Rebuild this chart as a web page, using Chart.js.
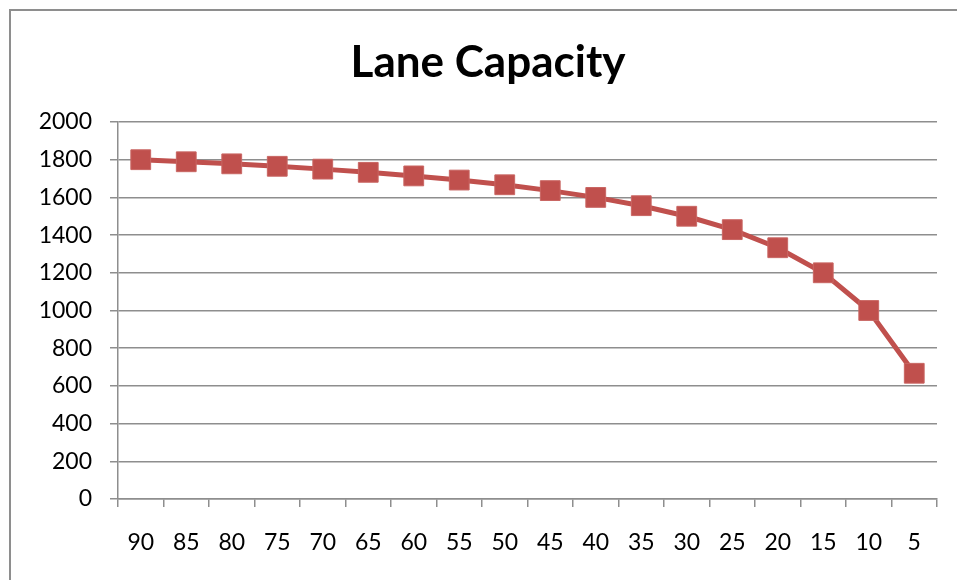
<!DOCTYPE html>
<html>
<head>
<meta charset="utf-8">
<script src="https://cdn.jsdelivr.net/npm/chart.js@4"></script>
<style>
  html, body { margin: 0; padding: 0; background: #fff; }
  #wrap { position: relative; width: 957px; height: 580px; overflow: hidden; }
  #frame { position: absolute; left: 9px; top: 9px; width: 980px; height: 600px;
           border: 2px solid #8e8e8e; box-sizing: border-box; }
  canvas { position: absolute; left: 0; top: 0; }
</style>
</head>
<body>
<div id="wrap">
  <div id="frame"></div>
  <canvas id="chart" width="957" height="580"></canvas>
</div>
<script>
// speeds along the x axis
const speeds = ["90", "85", "80", "75", "70", "65", "60", "55", "50", "45",
                "40", "35", "30", "25", "20", "15", "10", "5"];

// lane capacity
const capacity = [1800, 1789, 1778, 1765, 1750, 1733, 1714, 1692, 1667, 1636,
                  1600, 1556, 1500, 1429, 1333, 1200, 1000, 667];

const yMin = 0;
const yMax = 2000;
const yStep = 200;

const red = "#c0504d";
const gray = "#8e8e8e";
const fontFamily = "Lato, 'Open Sans', sans-serif";

const ctx = document.getElementById("chart").getContext("2d");

new Chart(ctx, {
  type: "line",
  data: {
    labels: speeds,
    datasets: [{
      data: capacity,
      borderColor: red,
      borderWidth: 5,
      backgroundColor: red,
      pointStyle: "rect",
      pointRadius: 14,
      pointHoverRadius: 14,
      pointBackgroundColor: red,
      pointBorderColor: "#c96663",
      pointBorderWidth: 1,
      tension: 0
    }]
  },
  options: {
    responsive: false,
    animation: false,
    // left padding pushes the title centre over to where the frame's centre is
    layout: { padding: { left: 39, right: 20, top: 0, bottom: 0 } },
    plugins: {
      legend: { display: false },
      tooltip: { enabled: false },
      title: {
        display: true,
        text: "Lane Capacity",
        color: "#000",
        font: { family: fontFamily, size: 44, weight: "bold", lineHeight: 1.2 },
        padding: { top: 36, bottom: 33.2 }
      }
    },
    scales: {
      x: {
        offset: true,
        grid: {
          offset: true,
          drawOnChartArea: false,
          drawTicks: true,
          tickLength: 8,
          color: gray,
          lineWidth: 1.5
        },
        border: { color: gray, width: 1.5 },
        ticks: {
          color: "#000",
          font: { family: fontFamily, size: 23 },
          padding: 22,
          maxRotation: 0,
          autoSkip: false
        },
        afterFit: scale => { scale.height = 81; }
      },
      y: {
        min: yMin,
        max: yMax,
        grid: {
          color: gray,
          lineWidth: 1.5,
          tickLength: 8
        },
        border: { color: gray, width: 1.5 },
        ticks: {
          stepSize: yStep,
          color: "#000",
          font: { family: fontFamily, size: 23 },
          padding: 18,
          callback: value => String(value)
        },
        afterFit: scale => { scale.width = 79; }
      }
    }
  }
});
</script>
</body>
</html>
